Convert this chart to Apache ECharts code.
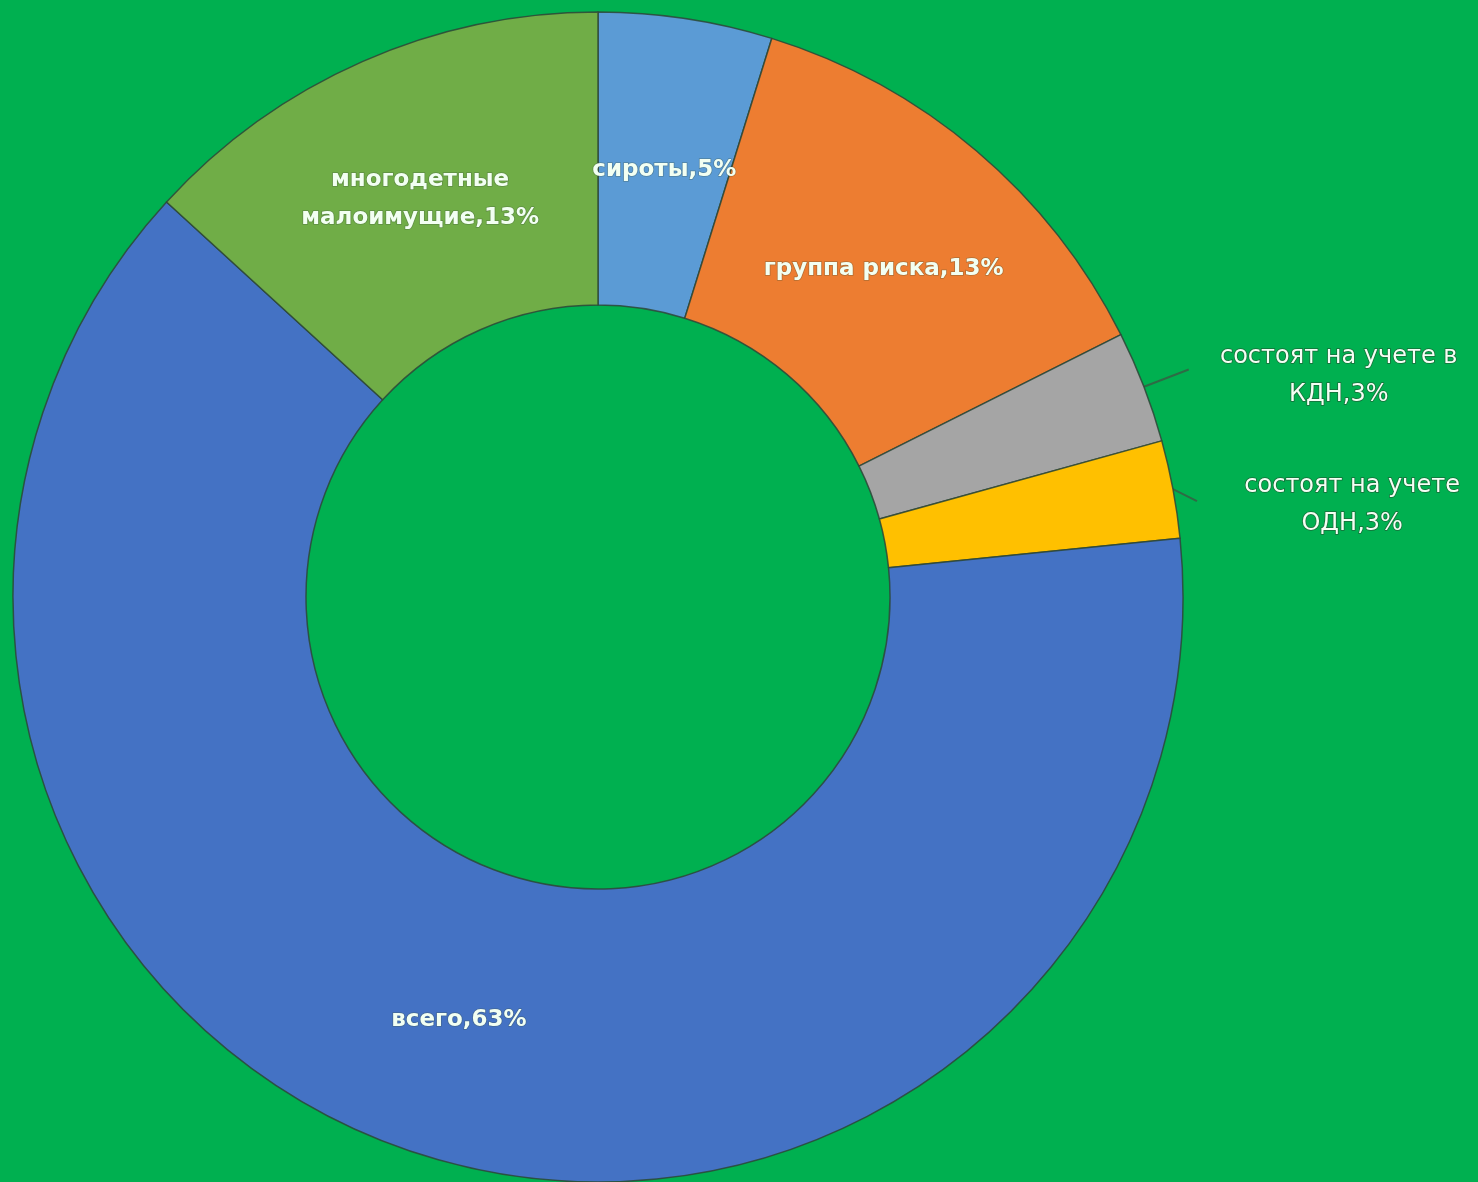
<!DOCTYPE html>
<html>
<head>
<meta charset="utf-8">
<style>
html,body{margin:0;padding:0;background:#00B050;}
#chart{width:1478px;height:1182px;}
</style>
<script src="https://cdn.jsdelivr.net/npm/echarts@6/dist/echarts.min.js"></script>
</head>
<body>
<div id="chart"></div>
<script>
// Data (percentages of the whole)
const categories = ['сироты', 'группа риска', 'состоят на учете в\nКДН', 'состоят на учете\nОДН', 'всего', 'многодетные\nмалоимущие'];
const values = [4.8, 12.8, 3.1, 2.7, 63.4, 13.2];
const colors = ['#5B9BD5', '#ED7D31', '#A5A5A5', '#FFC000', '#4472C4', '#70AD47'];
const outsideLabels = [false, false, true, true, false, false];

const chart = echarts.init(document.getElementById('chart'));

const insideLabel = {
  show: true,
  position: 'inside',
  fontFamily: 'DejaVu Sans',
  fontWeight: 'bold',
  fontSize: 23,
  lineHeight: 38,
  color: '#F2FFF2',
  textBorderColor: 'rgba(60,80,60,0.35)',
  textBorderWidth: 1.5,
  formatter: p => p.name + ',' + Math.round(p.percent) + '%'
};

const outsideLabel = {
  show: true,
  position: 'outside',
  distanceToLabelLine: 0,
  formatter: p => p.name.split('\n').map((s, i, arr) => '{t|' + s + (i === arr.length - 1 ? ',' + Math.round(p.percent) + '%' : '') + '}').join('\n'),
  rich: {
    t: {
      width: 300,
      align: 'center',
      fontFamily: 'DejaVu Sans',
      fontSize: 24,
      lineHeight: 38,
      color: '#F4FFF4',
      textBorderColor: 'rgba(40,60,40,0.6)',
      textBorderWidth: 1.5
    }
  }
};

const data = categories.map((name, i) => {
  const item = { name: name, value: values[i], itemStyle: { color: colors[i] } };
  if (outsideLabels[i]) {
    item.label = outsideLabel;
    item.labelLine = { show: true, length: 48, length2: 0, smooth: false, lineStyle: { color: '#2E6B45', width: 2 } };
  } else {
    item.label = insideLabel;
    item.labelLine = { show: false };
  }
  return item;
});

const labelShiftY = [10, 9, 6, 24, 4, 6];

chart.setOption({
  backgroundColor: '#00B050',
  animation: false,
  series: [{
    type: 'pie',
    center: [598, 597],
    radius: [292, 585],
    startAngle: 90,
    clockwise: true,
    avoidLabelOverlap: false,
    itemStyle: { borderColor: 'rgba(45,70,55,0.85)', borderWidth: 1.5 },
    emphasis: { disabled: true },
    labelLayout: function (params) {
      const i = params.dataIndex;
      const res = { dy: labelShiftY[i] };
      if (i === 3) {
        res.dx = -18;
        const pts = params.labelLinePoints;
        if (pts && pts.length) {
          const p0 = pts[0];
          res.labelLinePoints = [p0, [p0[0] + 12, p0[1] + 6], [p0[0] + 24, p0[1] + 12]];
        }
      }
      return res;
    },
    data: data
  }]
});
</script>
</body>
</html>
